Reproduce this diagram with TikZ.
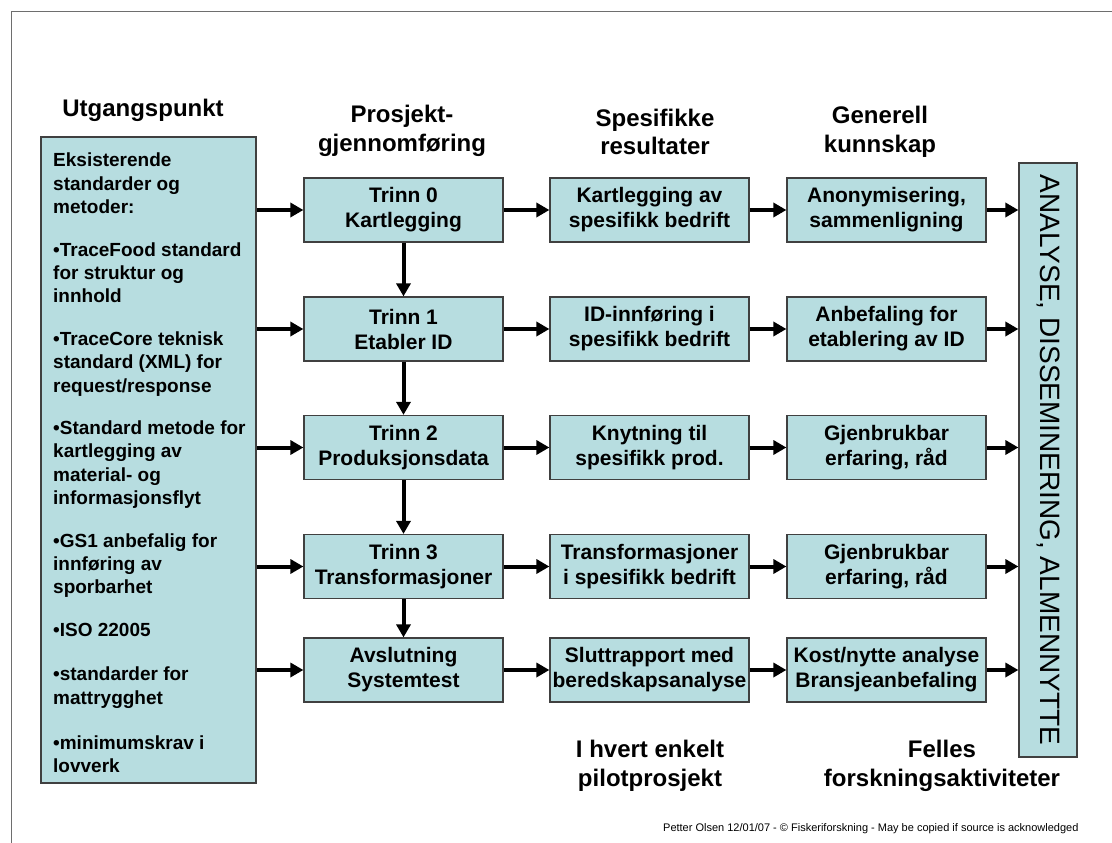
\documentclass[tikz,border=0pt]{standalone}
\usepackage{fontspec}
\setmainfont{Liberation Sans}
\usetikzlibrary{arrows.meta}

\definecolor{boxblue}{RGB}{183,221,224}
\definecolor{framegray}{RGB}{110,110,110}

\tikzset{
  stepbox/.style={draw=black!75, fill=boxblue, line width=1.2pt, minimum width=199pt, minimum height=64pt, inner sep=0pt, align=center, font=\bfseries\fontsize{21}{25}\selectfont},
  flow/.style={line width=4pt, -{Triangle[length=13pt,width=14pt]}},
  heading/.style={align=center, font=\bfseries\fontsize{24}{28.5}\selectfont},
}

\begin{document}
\begin{tikzpicture}[x=1pt,y=-1pt]
\useasboundingbox (0,0) rectangle (1112,843);
\draw[framegray, line width=1pt] (1112,12) -- (11,12) -- (11,843);

% column headings
\node[heading] (hstart) at (143,110) {Utgangspunkt};
\node[heading] (hproj) at (402,131) {Prosjekt-\\gjennomføring};
\node[heading] (hspec) at (655,132) {Spesifikke\\resultater};
\node[heading] (hgen) at (880,132) {Generell\\kunnskap};

% starting point
\node[draw=black!75, fill=boxblue, line width=1.2pt, minimum width=215pt, minimum height=646pt] (source) at (148.5,460) {};
\node[anchor=north west, inner sep=0pt, align=left, font=\bfseries\fontsize{19}{23.4}\selectfont] (sourcetext) at (53,153) {%
Eksisterende\\standarder og\\metoder:\\[19pt]
•TraceFood standard\\for struktur og\\innhold\\[19pt]
•TraceCore teknisk\\standard (XML) for\\request/response\\[19pt]
•Standard metode for\\kartlegging av\\material- og\\informasjonsflyt\\[19pt]
•GS1 anbefalig for\\innføring av\\sporbarhet\\[19pt]
•ISO 22005\\[21pt]
•standarder for\\mattrygghet\\[22pt]
•minimumskrav i\\lovverk};

% project steps
\node[stepbox] (step0) at (403.5,210) {Trinn 0\\Kartlegging};
\node[stepbox] (step1) at (403.5,329) {Trinn 1\\Etabler ID};
\node[stepbox] (step2) at (403.5,447.5) {Trinn 2\\Produksjonsdata};
\node[stepbox] (step3) at (403.5,566.5) {Trinn 3\\Transformasjoner};
\node[stepbox] (step4) at (403.5,670) {Avslutning\\Systemtest};

% specific results
\node[stepbox] (spec0) at (649.5,210) {Kartlegging av\\spesifikk bedrift};
\node[stepbox] (spec1) at (649.5,329) {ID-innføring i\\spesifikk bedrift};
\node[stepbox] (spec2) at (649.5,447.5) {Knytning til\\spesifikk prod.};
\node[stepbox] (spec3) at (649.5,566.5) {Transformasjoner\\i spesifikk bedrift};
\node[stepbox] (spec4) at (649.5,670) {Sluttrapport med\\beredskapsanalyse};

% general knowledge
\node[stepbox] (gen0) at (886.5,210) {Anonymisering,\\sammenligning};
\node[stepbox] (gen1) at (886.5,329) {Anbefaling for\\etablering av ID};
\node[stepbox] (gen2) at (886.5,447.5) {Gjenbrukbar\\erfaring, råd};
\node[stepbox] (gen3) at (886.5,566.5) {Gjenbrukbar\\erfaring, råd};
\node[stepbox] (gen4) at (886.5,670) {Kost/nytte analyse\\Bransjeanbefaling};

% common activities
\node[draw=black!75, fill=boxblue, line width=1.2pt, minimum width=58pt, minimum height=594pt] (result) at (1048,460) {};
\node[rotate=-90, font=\fontsize{28}{30}\selectfont] (resulttext) at (result.center) {ANALYSE, DISSEMINERING, ALMENNYTTE};

% arrows
\draw[flow] (source.east |- step0) -- (step0);
\draw[flow] (source.east |- step1) -- (step1);
\draw[flow] (source.east |- step2) -- (step2);
\draw[flow] (source.east |- step3) -- (step3);
\draw[flow] (source.east |- step4) -- (step4);

\draw[flow] (step0) -- (step1);
\draw[flow] (step1) -- (step2);
\draw[flow] (step2) -- (step3);
\draw[flow] (step3) -- (step4);

\draw[flow] (step0) -- (spec0);
\draw[flow] (step1) -- (spec1);
\draw[flow] (step2) -- (spec2);
\draw[flow] (step3) -- (spec3);
\draw[flow] (step4) -- (spec4);

\draw[flow] (spec0) -- (gen0);
\draw[flow] (spec1) -- (gen1);
\draw[flow] (spec2) -- (gen2);
\draw[flow] (spec3) -- (gen3);
\draw[flow] (spec4) -- (gen4);

\draw[flow] (gen0) -- (gen0 -| result.west);
\draw[flow] (gen1) -- (gen1 -| result.west);
\draw[flow] (gen2) -- (gen2 -| result.west);
\draw[flow] (gen3) -- (gen3 -| result.west);
\draw[flow] (gen4) -- (gen4 -| result.west);

% bottom labels
\node[heading] (hpilot) at (650,766) {I hvert enkelt\\pilotprosjekt};
\node[heading] (hcommon) at (942,766) {Felles\\forskningsaktiviteter};
\node[anchor=base east, font=\fontsize{11}{13}\selectfont] (credit) at (1082,831) {Petter Olsen 12/01/07 - © Fiskeriforskning - May be copied if source is acknowledged};
\end{tikzpicture}
\end{document}
